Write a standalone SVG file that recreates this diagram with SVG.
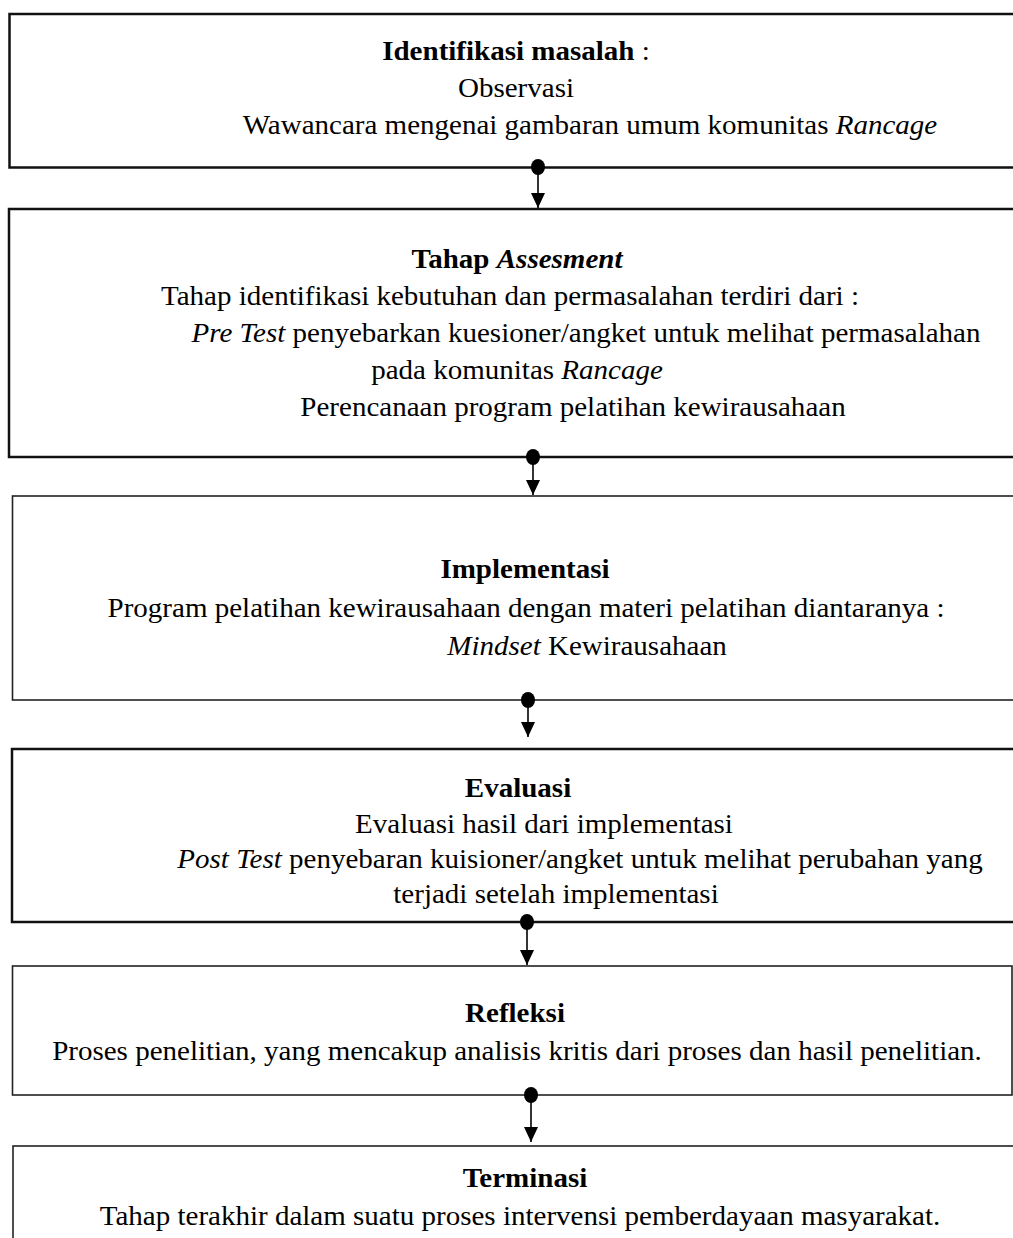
<svg xmlns="http://www.w3.org/2000/svg" width="1013" height="1238" viewBox="0 0 1013 1238">
<style>
.box{fill:#fff;stroke:#111;stroke-width:2.5}
.thin{stroke-width:1.6;stroke:#222}
.t{font-family:"Liberation Serif","Times New Roman",serif;font-size:27px;fill:#000;text-anchor:middle}
.b{font-weight:bold}
.i{font-style:italic}
.conn{stroke:#000;stroke-width:1.6;fill:none}
.dot{fill:#000}
</style>
<defs>
<marker id="arr" viewBox="0 0 15 14" refX="15" refY="7" markerWidth="15" markerHeight="14" markerUnits="userSpaceOnUse" orient="auto">
<path d="M0,0 L15,7 L0,14 Z" fill="#000"/>
</marker>
</defs>
<rect width="1013" height="1238" fill="#fff"/>

<g id="node-identifikasi">
<rect class="box" x="9.5" y="14" width="1020" height="153.5"/>
<text class="t" transform="translate(516,60) scale(1.075,1)"><tspan class="b">Identifikasi masalah</tspan> :</text>
<text class="t" transform="translate(516,97) scale(1.075,1)">Observasi</text>
<text class="t" transform="translate(590,134) scale(1.075,1)">Wawancara mengenai gambaran umum komunitas <tspan class="i">Rancage</tspan></text>
</g>

<g id="node-assesment">
<rect class="box" x="9" y="209" width="1020" height="248"/>
<text class="t" transform="translate(517,268) scale(1.075,1)"><tspan class="b">Tahap </tspan><tspan class="b i">Assesment</tspan></text>
<text class="t" transform="translate(510,305) scale(1.075,1)">Tahap identifikasi kebutuhan dan permasalahan terdiri dari :</text>
<text class="t" transform="translate(586,342) scale(1.075,1)"><tspan class="i">Pre Test</tspan> penyebarkan kuesioner/angket untuk melihat permasalahan</text>
<text class="t" transform="translate(517,379) scale(1.075,1)">pada komunitas <tspan class="i">Rancage</tspan></text>
<text class="t" transform="translate(573,416) scale(1.075,1)">Perencanaan program pelatihan kewirausahaan</text>
</g>

<g id="node-implementasi">
<rect class="box thin" x="12.5" y="496" width="1020" height="204"/>
<text class="t" transform="translate(525,578) scale(1.075,1)"><tspan class="b">Implementasi</tspan></text>
<text class="t" transform="translate(526,617) scale(1.075,1)">Program pelatihan kewirausahaan dengan materi pelatihan diantaranya :</text>
<text class="t" transform="translate(587,655) scale(1.075,1)"><tspan class="i">Mindset</tspan> Kewirausahaan</text>
</g>

<g id="node-evaluasi">
<rect class="box" x="12" y="749" width="1020" height="173"/>
<text class="t" transform="translate(518,797) scale(1.075,1)"><tspan class="b">Evaluasi</tspan></text>
<text class="t" transform="translate(544,833) scale(1.075,1)">Evaluasi hasil dari implementasi</text>
<text class="t" transform="translate(580,868) scale(1.075,1)"><tspan class="i">Post Test</tspan> penyebaran kuisioner/angket untuk melihat perubahan yang</text>
<text class="t" transform="translate(556,903) scale(1.075,1)">terjadi setelah implementasi</text>
</g>

<g id="node-refleksi">
<rect class="box thin" x="12.5" y="966" width="999.5" height="129"/>
<text class="t" transform="translate(515,1022) scale(1.075,1)"><tspan class="b">Refleksi</tspan></text>
<text class="t" transform="translate(517,1060) scale(1.075,1)">Proses penelitian, yang mencakup analisis kritis dari proses dan hasil penelitian.</text>
</g>

<g id="node-terminasi">
<rect class="box thin" x="13" y="1146" width="1020" height="120"/>
<text class="t" transform="translate(525,1187) scale(1.075,1)"><tspan class="b">Terminasi</tspan></text>
<text class="t" transform="translate(520,1225) scale(1.075,1)">Tahap terakhir dalam suatu proses intervensi pemberdayaan masyarakat.</text>
</g>

<g id="connectors">
<line class="conn" x1="538" y1="167" x2="538" y2="208" marker-end="url(#arr)"/>
<ellipse class="dot" cx="538" cy="167" rx="7" ry="8"/>
<line class="conn" x1="533" y1="457" x2="533" y2="495" marker-end="url(#arr)"/>
<ellipse class="dot" cx="533" cy="457" rx="7" ry="8"/>
<line class="conn" x1="528" y1="700" x2="528" y2="737" marker-end="url(#arr)"/>
<ellipse class="dot" cx="528" cy="700" rx="7" ry="8"/>
<line class="conn" x1="527" y1="922" x2="527" y2="965" marker-end="url(#arr)"/>
<ellipse class="dot" cx="527" cy="922" rx="7" ry="8"/>
<line class="conn" x1="531" y1="1095" x2="531" y2="1142" marker-end="url(#arr)"/>
<ellipse class="dot" cx="531" cy="1095" rx="7" ry="8"/>
</g>
</svg>
